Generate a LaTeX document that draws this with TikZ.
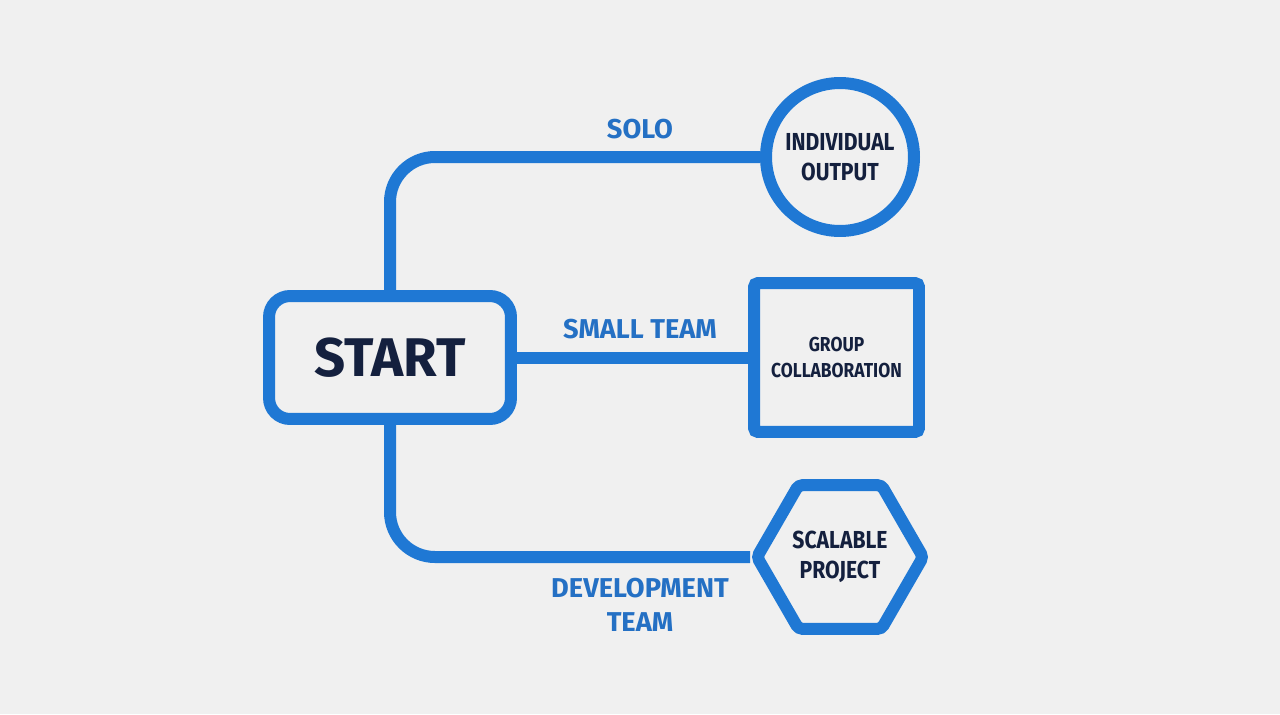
\documentclass[tikz,border=0pt]{standalone}
\usepackage{fontspec}
\setmainfont{Fira Sans}[FakeStretch=0.86]
\newfontfamily\widefont{Fira Sans}[FakeStretch=1.0]
\usepackage{tikz}
\usetikzlibrary{positioning,calc,shapes.geometric}
\definecolor{FlowBlue}{RGB}{31,120,212}
\definecolor{FlowLabel}{RGB}{36,112,196}
\definecolor{FlowNavy}{RGB}{20,32,62}
\definecolor{FlowBack}{RGB}{240,240,240}
\tikzset{
  startbox/.style={draw=FlowBlue, line width=0.24cm, rounded corners=0.42cm, fill=FlowBack, minimum width=4.84cm, minimum height=2.46cm, text=FlowNavy, font=\widefont\fontsize{31}{34}\selectfont\bfseries},
  circlebox/.style={circle, draw=FlowBlue, line width=0.24cm, fill=FlowBack, minimum size=2.96cm, inner sep=0pt, align=center, text=FlowNavy, font=\fontsize{14}{17}\selectfont\bfseries},
  squarebox/.style={rectangle, draw=FlowBlue, line width=0.24cm, rounded corners=0.08cm, fill=FlowBack, minimum width=3.3cm, minimum height=2.98cm, inner sep=0pt, align=center, text=FlowNavy, font=\fontsize{11.5}{14.5}\selectfont\bfseries},
  hexbox/.style={regular polygon, regular polygon sides=6, draw=FlowBlue, line width=0.24cm, rounded corners=0.08cm, fill=FlowBack, minimum size=3.32cm, inner sep=0pt, align=center, text=FlowNavy, font=\fontsize{14}{17}\selectfont\bfseries},
  link/.style={draw=FlowBlue, line width=0.24cm, rounded corners=0.9cm},
  lbl/.style={text=FlowLabel, align=center, font=\widefont\fontsize{15.5}{19}\selectfont\bfseries}
}
\begin{document}
\begin{tikzpicture}[x=0.02cm, y=-0.02cm]
\fill[FlowBack] (0,0) rectangle (1280,714);
\useasboundingbox (0,0) rectangle (1280,714);
% connectors first, boxes on top
\coordinate (hub) at (390,357.5);
\node[circlebox] (output) at (840,157) {INDIVIDUAL\\OUTPUT};
\node[squarebox] (group) at (836.5,357.5) {GROUP\\COLLABORATION};
\node[hexbox] (project) at (840,557) {SCALABLE\\PROJECT};
\draw[link] (hub) |- (output.west);
\draw[link] (hub) -- (group.west);
\draw[link] (hub) |- (project.west);
\node[startbox] (start) at (hub) {START};
\node[lbl] (solo) at (640,129) {SOLO};
\node[lbl] (small) at (640,329) {SMALL TEAM};
\node[lbl] (dev) at (640,605) {DEVELOPMENT\\TEAM};
\end{tikzpicture}
\end{document}
